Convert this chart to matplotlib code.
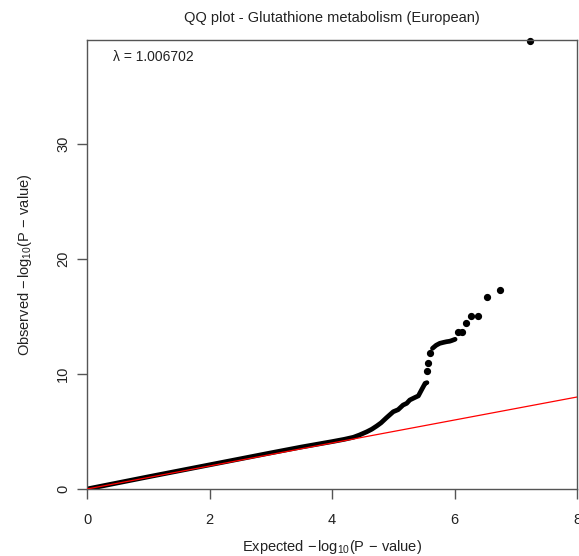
import matplotlib
matplotlib.use("Agg")
import matplotlib.pyplot as plt

# dense part of the QQ curve (expected, observed)
dense_x = [0.0, 0.5, 1.0, 1.5, 2.0, 2.5, 3.0, 3.5, 4.0, 4.2, 4.35, 4.45, 4.57,
           4.65, 4.73, 4.8, 4.89, 5.0, 5.08, 5.16, 5.22, 5.27, 5.35, 5.41, 5.46, 5.52, 5.55]
dense_y = [0.0, 0.53, 1.06, 1.58, 2.1, 2.62, 3.14, 3.65, 4.12, 4.32, 4.5, 4.7, 4.98,
           5.2, 5.48, 5.75, 6.2, 6.72, 6.9, 7.3, 7.45, 7.74, 7.95, 8.1, 8.6, 9.19, 9.25]

# second dense run near the top of the curve
run_x = [5.64, 5.70, 5.76, 5.82, 5.87, 5.92, 5.95, 6.01]
run_y = [12.23, 12.5, 12.67, 12.75, 12.81, 12.85, 12.9, 13.02]

# sparse tail points
tail_x = [5.55, 5.57, 5.60, 6.05, 6.12, 6.19, 6.27, 6.39, 6.53, 6.75, 7.23]
tail_y = [10.25, 11.0, 11.8, 13.65, 13.65, 14.46, 15.04, 15.04, 16.72, 17.28, 38.95]

null_line = [0, 8]
lambda_gc = 1.006702

plt.rcParams['font.family'] = ['Liberation Sans', 'DejaVu Sans']
plt.rcParams['mathtext.fontset'] = 'custom'
plt.rcParams['mathtext.rm'] = 'Liberation Sans'
plt.rcParams['mathtext.it'] = 'Liberation Sans:italic'

fig = plt.figure(figsize=(5.79, 5.56), dpi=100)
ax = fig.add_axes([87 / 579, 67 / 556, 490 / 579, 449 / 556])

ax.plot(dense_x, dense_y, color='black', lw=3.4, solid_capstyle='round',
        solid_joinstyle='round', zorder=2)
ax.plot(run_x, run_y, color='black', lw=3.4, solid_capstyle='round',
        solid_joinstyle='round', zorder=2)
ax.plot(tail_x, tail_y, 'o', color='black', ms=4.2, zorder=2, clip_on=False)
ax.plot(null_line, null_line, color='red', lw=0.9, zorder=3)

ax.set_xlim(0, 8)
ax.set_ylim(0, 39.05)
ax.set_xticks([0, 2, 4, 6, 8])
ax.set_yticks([0, 10, 20, 30])
for s in ax.spines.values():
    s.set_color('#555555')
    s.set_linewidth(1.0)
ax.tick_params(length=7, width=1.0, color='#555555', labelcolor='#222222',
               labelsize=10.5)
ax.tick_params(axis='x', pad=10)
ax.tick_params(axis='y', pad=5)
for lab in ax.get_yticklabels():
    lab.set_rotation(90)
    lab.set_va('center')

ax.set_xlabel(r'Expected $-\,\mathrm{log}_{10}(\mathrm{P}\,-\,\mathrm{value})$',
              fontsize=10.5, color='#222222', labelpad=8)
ax.set_ylabel(r'Observed $-\,\mathrm{log}_{10}(\mathrm{P}\,-\,\mathrm{value})$',
              fontsize=10.5, color='#222222', labelpad=16)
ax.set_title('QQ plot - Glutathione metabolism (European)', fontsize=10.5,
             color='#222222', pad=13)
ax.text(0.42, 37.6, '\u03bb = %.6f' % lambda_gc, fontsize=10, color='#222222',
        va='center', ha='left')

fig.savefig('out.png', dpi=100)
